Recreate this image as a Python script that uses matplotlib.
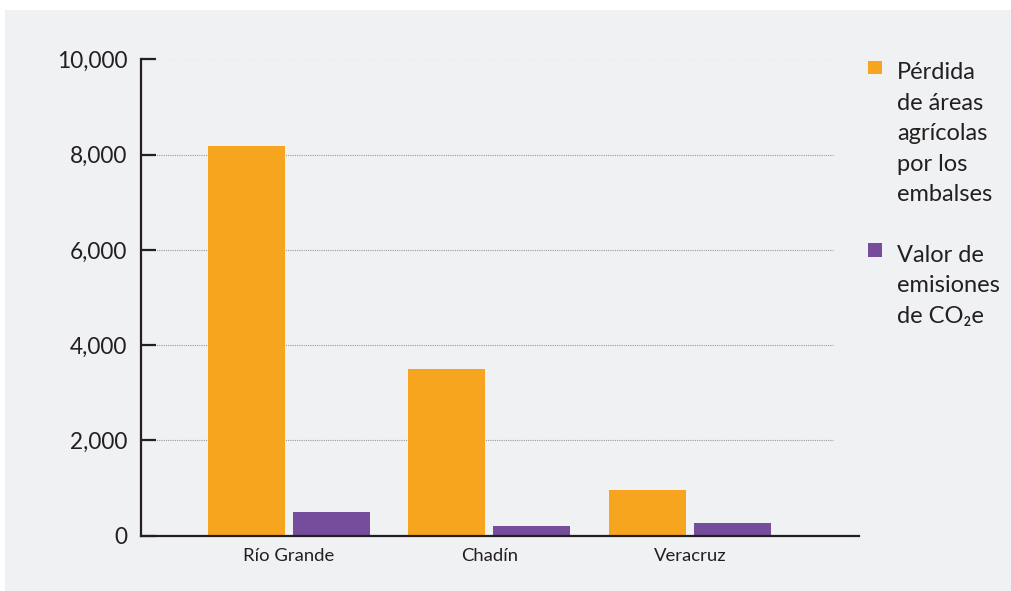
import matplotlib
matplotlib.use('Agg')
import matplotlib.pyplot as plt
from matplotlib.patches import Rectangle
import numpy as np

# ---- data ----
categories = ['Río Grande', 'Chadín', 'Veracruz']
perdida = [8180, 3500, 950]
emisiones = [500, 210, 270]
series_labels = ['Pérdida\nde áreas\nagrícolas\npor los\nembalses',
                 'Valor de\nemisiones\nde CO₂e']
series_colors = ['#f7a51e', '#764c9c']
yticks = [0, 2000, 4000, 6000, 8000, 10000]
ytick_labels = ['0', '2,000', '4,000', '6,000', '8,000', '10,000']

plt.rcParams['font.family'] = ['Lato', 'DejaVu Sans']
TXT = '#231f20'

W, H = 1012, 591
fig = plt.figure(figsize=(W / 100, H / 100), dpi=100, facecolor='white')
fig.patches.append(Rectangle((5 / W, 0), 1 - 5 / W, 1 - 10 / H,
                             transform=fig.transFigure, facecolor='#f0f1f3',
                             edgecolor='none', zorder=-10))

ax = fig.add_axes([141 / W, 1 - 535.5 / H, 718 / W, 476 / H])
ax.set_facecolor('none')

x = np.arange(len(categories))
w = 0.384
off = 0.212
ax.bar(x - off, perdida, w, color=series_colors[0], zorder=2)
ax.bar(x + off, emisiones, w, color=series_colors[1], zorder=2)

ax.set_xlim(-0.738, 2.843)
ax.set_ylim(0, 10000)

for s in ['top', 'right']:
    ax.spines[s].set_visible(False)
for s in ['left', 'bottom']:
    ax.spines[s].set_color(TXT)
    ax.spines[s].set_linewidth(1.6)
    ax.spines[s].set_zorder(3)

ax.set_yticks(yticks)
ax.set_yticklabels(ytick_labels)
ax.tick_params(axis='y', direction='in', length=11, width=1.6, color=TXT,
               pad=10, labelsize=16.3, labelcolor=TXT)
ax.set_xticks(x)
ax.set_xticklabels(categories)
ax.tick_params(axis='x', length=0, pad=9, labelsize=13.3, labelcolor=TXT)

for yv in yticks[1:]:
    ax.axhline(yv, xmin=0, xmax=(833 - 141) / 718, color='#9a9a9a', lw=0.8,
               ls=(0, (1, 1)), zorder=1)

# ---- legend (manual) ----
def fx(px):
    return px / W

def fy(py):
    return 1 - py / H

sq = 13.4
line_h = 30.6
entries_top = [60.7, 243.3]
for lbl, col, top in zip(series_labels, series_colors, entries_top):
    fig.patches.append(Rectangle((fx(868.3), fy(top + sq)), sq / W, sq / H,
                                 transform=fig.transFigure, facecolor=col,
                                 edgecolor='none'))
    for i, line in enumerate(lbl.split('\n')):
        fig.text(fx(897), fy(top + 18.3 + i * line_h), line, ha='left',
                 va='baseline', fontsize=17, color=TXT)

fig.savefig('out.png', dpi=100, facecolor='white')
